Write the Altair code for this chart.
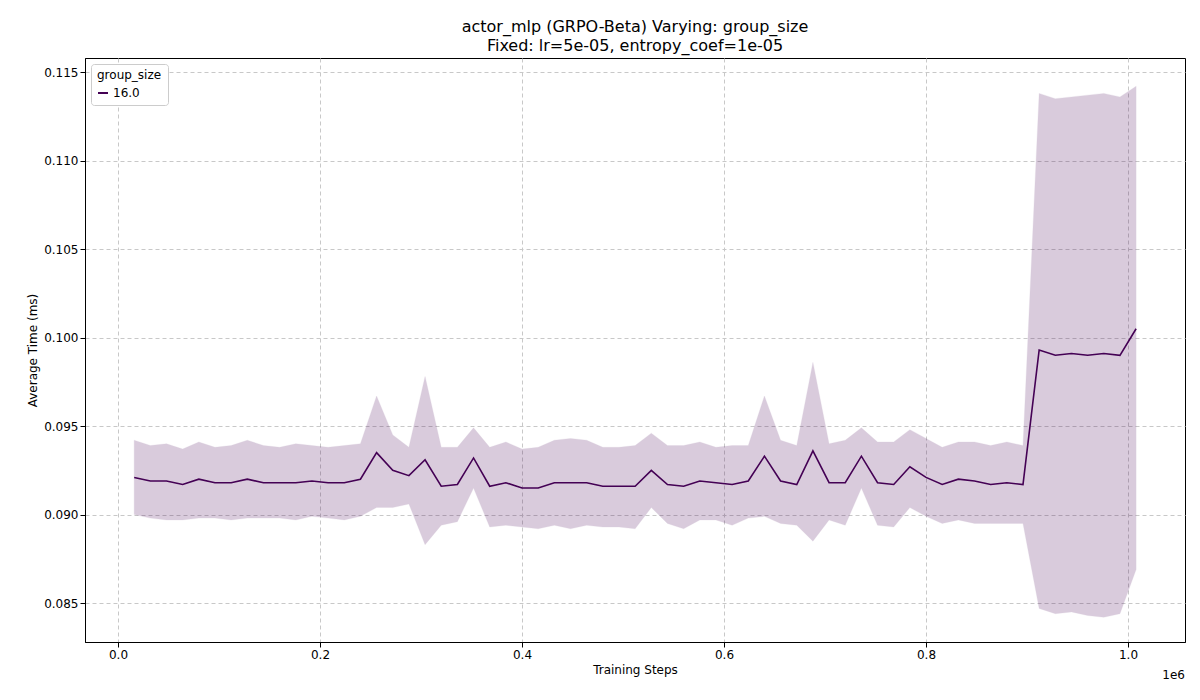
import pandas as pd
import altair as alt

steps = [16000 * (i + 1) for i in range(63)]
mean_ms = [0.0921, 0.0919, 0.0919, 0.0917, 0.0920, 0.0918, 0.0918, 0.0920, 0.0918, 0.0918,
           0.0918, 0.0919, 0.0918, 0.0918, 0.0920, 0.0935, 0.0925, 0.0922, 0.0931, 0.0916,
           0.0917, 0.0932, 0.0916, 0.0918, 0.0915, 0.0915, 0.0918, 0.0918, 0.0918, 0.0916,
           0.0916, 0.0916, 0.0925, 0.0917, 0.0916, 0.0919, 0.0918, 0.0917, 0.0919, 0.0933,
           0.0919, 0.0917, 0.0936, 0.0918, 0.0918, 0.0933, 0.0918, 0.0917, 0.0927, 0.0921,
           0.0917, 0.0920, 0.0919, 0.0917, 0.0918, 0.0917, 0.0993, 0.0990, 0.0991, 0.0990,
           0.0991, 0.0990, 0.1005]
upper_ms = [0.0942, 0.0939, 0.0940, 0.0937, 0.0941, 0.0938, 0.0939, 0.0942, 0.0939, 0.0938,
            0.0940, 0.0939, 0.0938, 0.0939, 0.0940, 0.0967, 0.0945, 0.0938, 0.0978, 0.0938,
            0.0938, 0.0949, 0.0938, 0.0941, 0.0937, 0.0938, 0.0942, 0.0943, 0.0942, 0.0938,
            0.0938, 0.0939, 0.0946, 0.0939, 0.0939, 0.0941, 0.0938, 0.0939, 0.0939, 0.0967,
            0.0942, 0.0939, 0.0986, 0.0940, 0.0942, 0.0949, 0.0941, 0.0941, 0.0948, 0.0943,
            0.0938, 0.0941, 0.0941, 0.0939, 0.0941, 0.0939, 0.1138, 0.1135, 0.1136, 0.1137,
            0.1138, 0.1136, 0.1142]
lower_ms = [0.0900, 0.0898, 0.0897, 0.0897, 0.0898, 0.0898, 0.0897, 0.0898, 0.0898, 0.0898,
            0.0897, 0.0899, 0.0898, 0.0897, 0.0899, 0.0904, 0.0904, 0.0906, 0.0883, 0.0894,
            0.0896, 0.0915, 0.0893, 0.0894, 0.0893, 0.0892, 0.0894, 0.0892, 0.0894, 0.0893,
            0.0893, 0.0892, 0.0904, 0.0895, 0.0892, 0.0897, 0.0897, 0.0894, 0.0898, 0.0899,
            0.0895, 0.0894, 0.0885, 0.0897, 0.0894, 0.0915, 0.0894, 0.0893, 0.0904, 0.0899,
            0.0895, 0.0897, 0.0895, 0.0895, 0.0895, 0.0895, 0.0847, 0.0844, 0.0845, 0.0843,
            0.0842, 0.0844, 0.0869]

df = pd.DataFrame({"step": steps, "mean": mean_ms, "upper": upper_ms, "lower": lower_ms,
                   "group_size": "16.0"})

purple = "#440154"
xscale = alt.Scale(domain=[-32700, 1056400], nice=False, zero=False)
yscale = alt.Scale(domain=[0.0828, 0.1158], nice=False, zero=False)

band = alt.Chart(df).mark_area(color=purple, opacity=0.2, stroke=purple, strokeOpacity=0.25).encode(
    alt.X("step:Q", scale=xscale, title="Training Steps",
          axis=alt.Axis(values=[0, 200000, 400000, 600000, 800000, 1000000],
                        labelExpr="format(datum.value / 1e6, '.1f')")),
    alt.Y("upper:Q", scale=yscale, title="Average Time (ms)",
          axis=alt.Axis(values=[0.085, 0.09, 0.095, 0.1, 0.105, 0.11, 0.115], format=".3f")),
    alt.Y2("lower:Q"),
)

line = alt.Chart(df).mark_line(strokeWidth=1.6).encode(
    alt.X("step:Q", scale=xscale),
    alt.Y("mean:Q", scale=yscale),
    alt.Color("group_size:N", scale=alt.Scale(range=[purple]),
              legend=alt.Legend(title="group_size", orient="top-left", symbolType="stroke",
                                symbolStrokeWidth=2, fillColor="white", strokeColor="#cccccc",
                                padding=6, cornerRadius=3, offset=6)),
)

offset_text = alt.Chart(pd.DataFrame({"t": ["1e6"]})).mark_text(
    align="right", baseline="top", fontSize=12, font="DejaVu Sans", color="black"
).encode(x=alt.value(1100), y=alt.value(612), text="t:N")

chart = (band + line + offset_text).properties(
    width=1100, height=584,
    title=alt.Title(["actor_mlp (GRPO-Beta) Varying: group_size", "Fixed: lr=5e-05, entropy_coef=1e-05"]),
    autosize=alt.AutoSizeParams(type="none"),
    padding={"left": 77, "top": 50, "right": 5, "bottom": 50},
).configure_title(
    fontSize=16, fontWeight="normal", font="DejaVu Sans", anchor="middle", offset=4, lineHeight=19
).configure_axis(
    grid=True, gridDash=[4, 3], gridColor="#c8c8c8", labelFont="DejaVu Sans", titleFont="DejaVu Sans",
    labelFontSize=12, titleFontSize=12, titleFontWeight="normal", labelColor="black",
    domainColor="black", tickColor="black"
).configure_legend(
    labelFont="DejaVu Sans", titleFont="DejaVu Sans", labelFontSize=12, titleFontSize=12,
    titleFontWeight="normal"
).configure_view(stroke="black")

chart.save("out.html", embed_options={"renderer": "svg", "actions": False})
